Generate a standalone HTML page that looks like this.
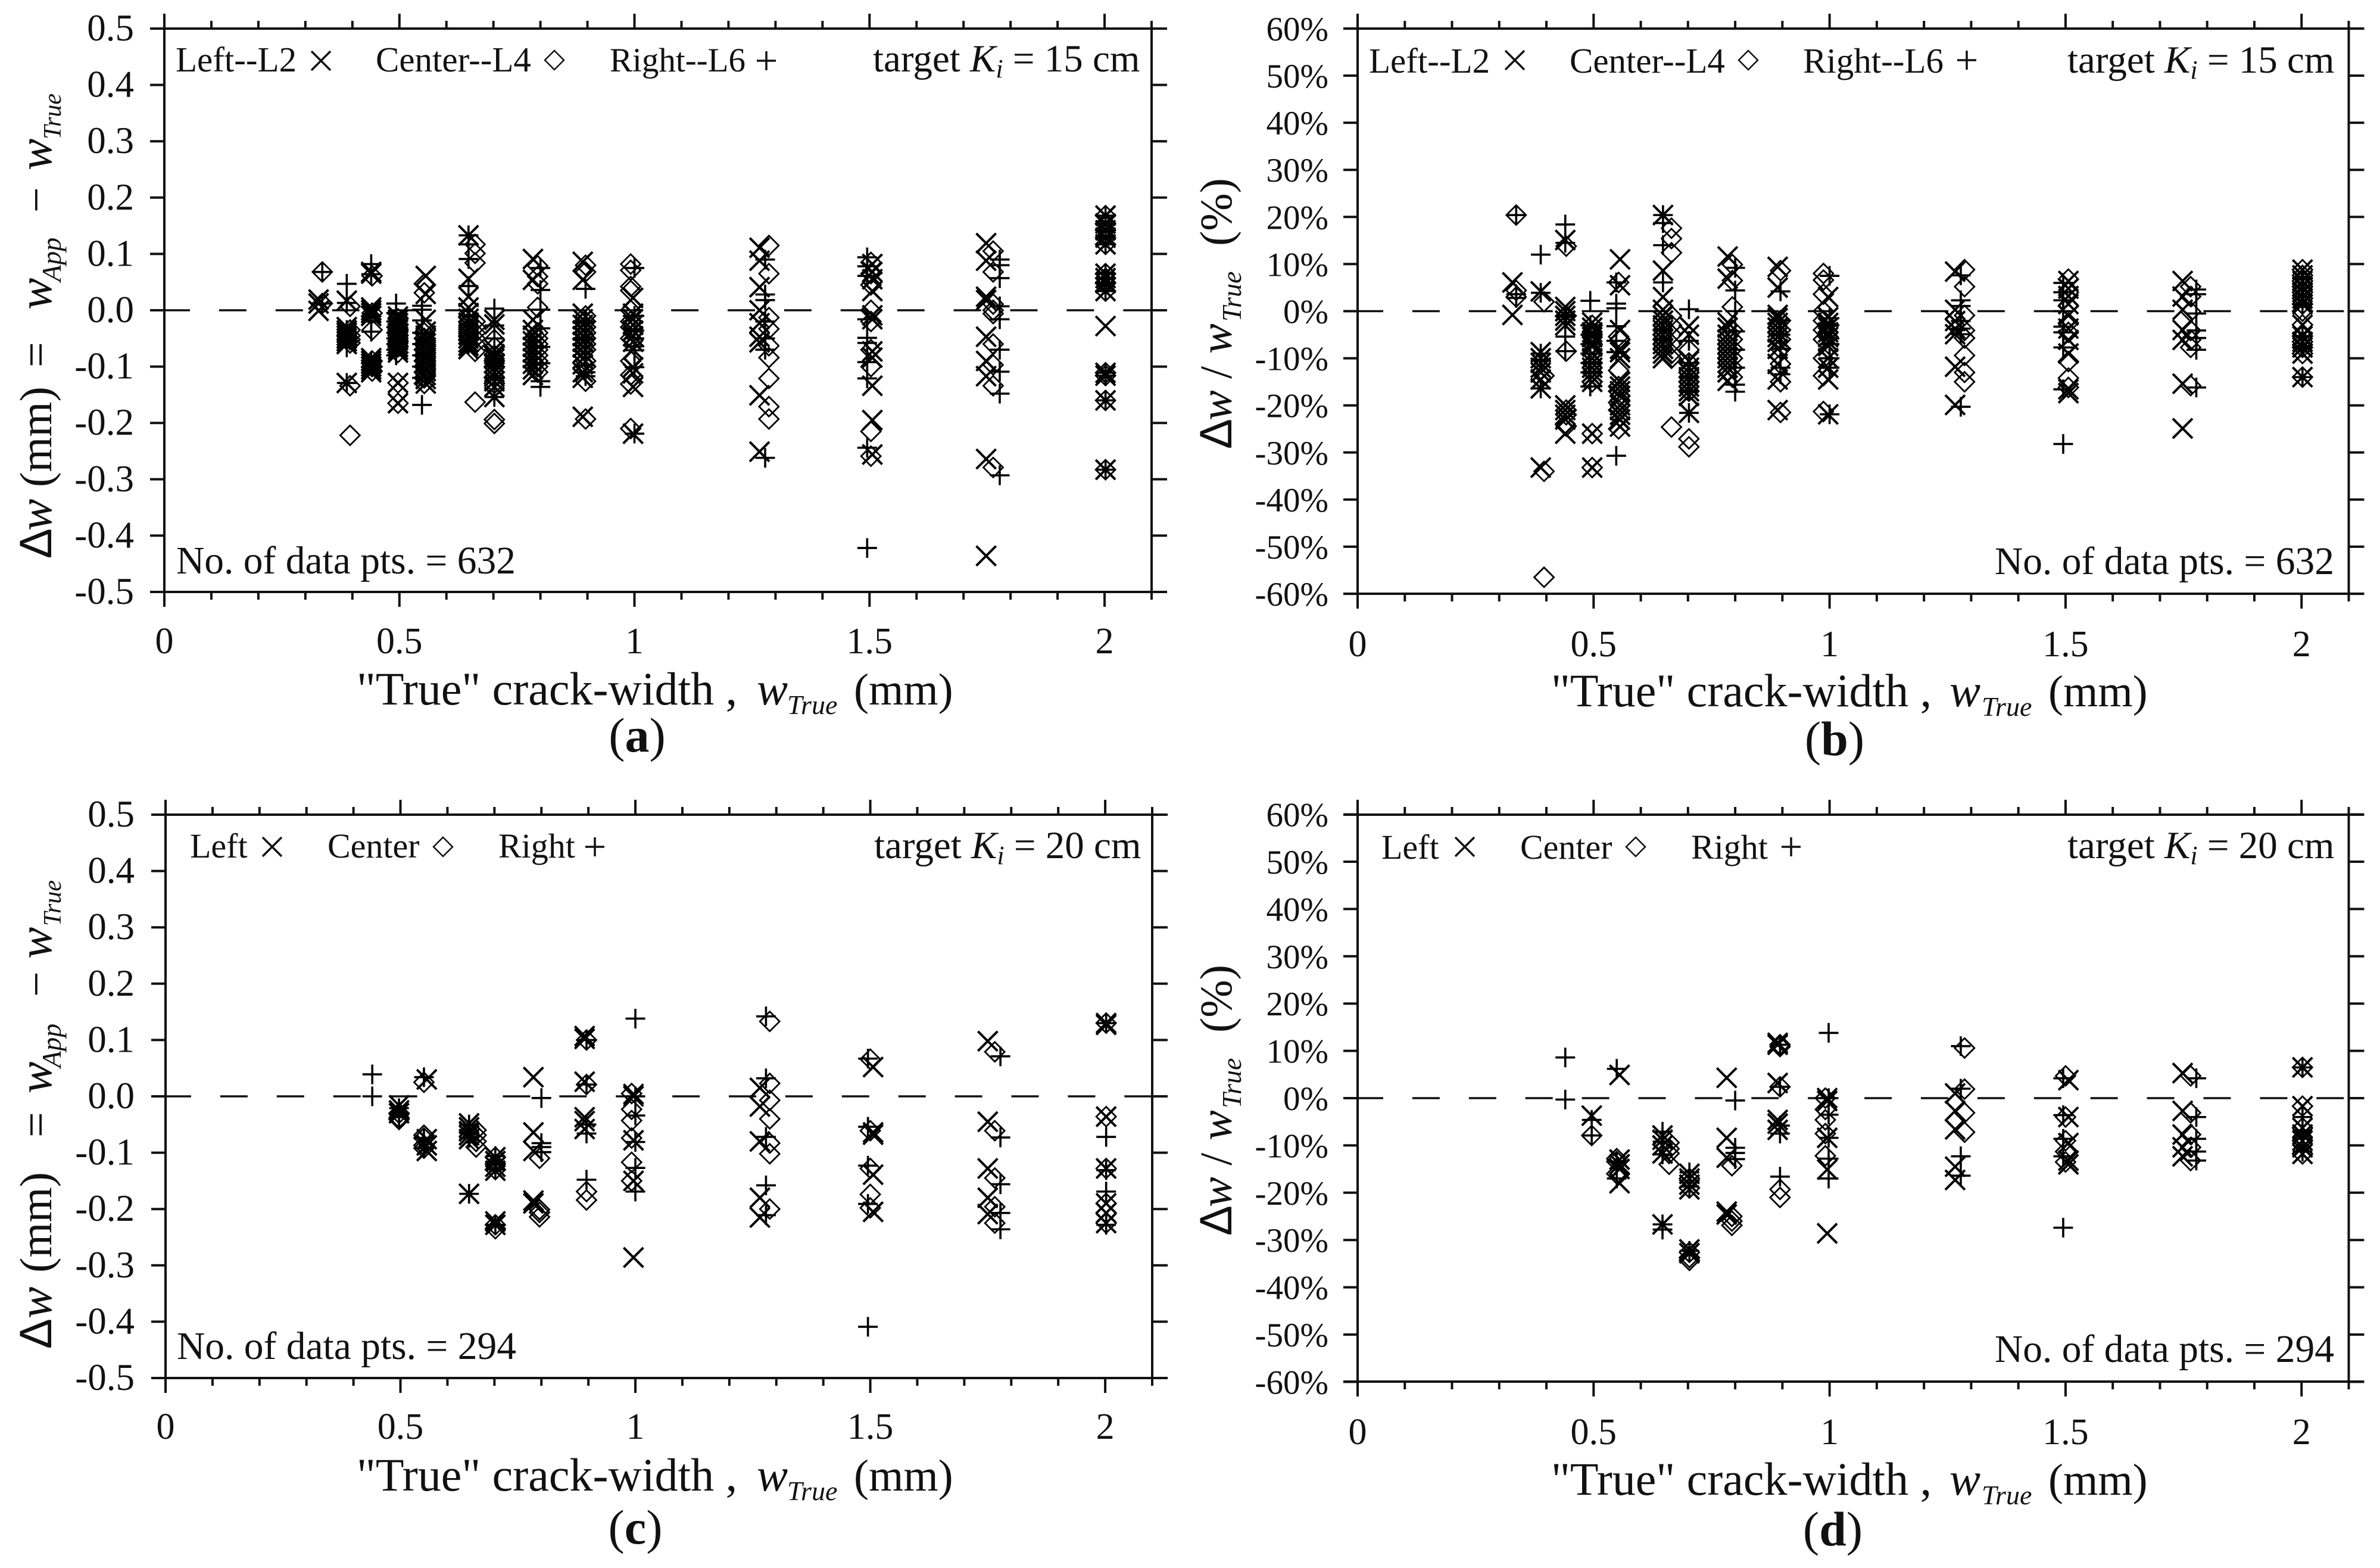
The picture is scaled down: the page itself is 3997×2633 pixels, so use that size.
<!DOCTYPE html>
<html lang="en">
<head>
<meta charset="utf-8">
<title>Crack-width error charts</title>
<style>
html,body{margin:0;padding:0;background:#fff;}
svg{display:block;}
text{font-family:"Liberation Serif",serif;fill:#111;}
</style>
</head>
<body>
<svg id="fig" xmlns="http://www.w3.org/2000/svg" width="3997" height="2633" viewBox="0 0 3997 2633">
<rect x="0" y="0" width="3997" height="2633" fill="#fff"/>

<g id="panel-a"></g>
<g id="panel-b"></g>
<g id="panel-c"></g>
<g id="panel-d"></g>

<!-- Panel A text -->
<g font-size="59">
<text x="295" y="120">Left--L2</text>
<path d="M523 86L555 118M555 86L523 118" stroke="#111" stroke-width="3.5" fill="none"/>
<text x="631" y="120">Center--L4</text>
<path d="M931 85L947 101L931 117L915 101Z" stroke="#111" stroke-width="2.5" fill="none"/>
<text x="1024" y="120" font-size="57">Right--L6</text>
<path d="M1271 102H1303M1287 86V118" stroke="#111" stroke-width="3.5" fill="none"/>
</g>
<text x="1466" y="120" font-size="65">target <tspan font-style="italic">K</tspan><tspan font-size="44" dy="10" font-style="italic">i</tspan><tspan dy="-10"> = 15 cm</tspan></text>
<text x="296" y="963" font-size="65.5">No. of data pts. = 632</text>
<text x="599" y="1183" font-size="78">"True" crack-width ,<tspan x="1271" font-style="italic">w</tspan><tspan x="1322" dy="16" font-size="46" font-style="italic">True</tspan><tspan x="1434" dy="-16" font-size="75">(mm)</tspan></text>
<text x="1070" y="1262" font-size="82" text-anchor="middle">(<tspan font-weight="bold">a</tspan>)</text>
<g transform="translate(86,938) rotate(-90)">
<text font-size="76"><tspan x="0" font-family="Liberation Sans">&#916;</tspan><tspan x="47" font-style="italic" font-size="80">w</tspan><tspan x="120">(mm)</tspan><tspan x="321">=</tspan><tspan x="418" font-style="italic" font-size="80">w</tspan><tspan x="465" dy="16" font-size="46" font-style="italic">App</tspan><tspan x="581" dy="-16">&#8722;</tspan><tspan x="652" font-style="italic" font-size="80">w</tspan><tspan x="704" dy="16" font-size="42" font-style="italic">True</tspan></text>
</g>

<!-- Panel B text -->
<g font-size="59">
<text x="2299" y="122">Left--L2</text>
<path d="M2528 85L2560 117M2560 85L2528 117" stroke="#111" stroke-width="3.5" fill="none"/>
<text x="2636" y="122">Center--L4</text>
<path d="M2936 85L2952 101L2936 117L2920 101Z" stroke="#111" stroke-width="2.5" fill="none"/>
<text x="3028" y="122">Right--L6</text>
<path d="M3287 101H3319M3303 85V117" stroke="#111" stroke-width="3.5" fill="none"/>
</g>
<text x="3472" y="122" font-size="65">target <tspan font-style="italic">K</tspan><tspan font-size="44" dy="10" font-style="italic">i</tspan><tspan dy="-10"> = 15 cm</tspan></text>
<text x="3350" y="964" font-size="65.5">No. of data pts. = 632</text>
<text x="2605" y="1186" font-size="78">"True" crack-width ,<tspan x="3274" font-style="italic">w</tspan><tspan x="3328" dy="16" font-size="46" font-style="italic">True</tspan><tspan x="3440" dy="-16" font-size="75">(mm)</tspan></text>
<text x="3081" y="1268" font-size="82" text-anchor="middle">(<tspan font-weight="bold">b</tspan>)</text>
<g transform="translate(2068,754) rotate(-90)">
<text font-size="76"><tspan x="0" font-family="Liberation Sans">&#916;</tspan><tspan x="48" font-style="italic">w</tspan><tspan x="118">/</tspan><tspan x="160" font-style="italic">w</tspan><tspan x="214" dy="16" font-size="46" font-style="italic">True</tspan><tspan x="341" dy="-16">(%)</tspan></text>
</g>

<!-- Panel C text -->
<g font-size="58">
<text x="319" y="1440">Left</text>
<path d="M441 1406L473 1438M473 1406L441 1438" stroke="#111" stroke-width="3.5" fill="none"/>
<text x="550" y="1440">Center</text>
<path d="M744 1406L760 1422L744 1438L728 1422Z" stroke="#111" stroke-width="2.5" fill="none"/>
<text x="837" y="1440">Right</text>
<path d="M983 1422H1015M999 1406V1438" stroke="#111" stroke-width="3.5" fill="none"/>
</g>
<text x="1468" y="1441" font-size="65">target <tspan font-style="italic">K</tspan><tspan font-size="44" dy="10" font-style="italic">i</tspan><tspan dy="-10"> = 20 cm</tspan></text>
<text x="297" y="2282" font-size="65.5">No. of data pts. = 294</text>
<text x="599" y="2503" font-size="78">"True" crack-width ,<tspan x="1271" font-style="italic">w</tspan><tspan x="1322" dy="16" font-size="46" font-style="italic">True</tspan><tspan x="1434" dy="-16" font-size="75">(mm)</tspan></text>
<text x="1067" y="2592" font-size="82" text-anchor="middle">(<tspan font-weight="bold">c</tspan>)</text>
<g transform="translate(86,2265) rotate(-90)">
<text font-size="76"><tspan x="0" font-family="Liberation Sans">&#916;</tspan><tspan x="51" font-style="italic" font-size="80">w</tspan><tspan x="128">(mm)</tspan><tspan x="355">=</tspan><tspan x="429" font-style="italic" font-size="80">w</tspan><tspan x="472" dy="16" font-size="46" font-style="italic">App</tspan><tspan x="591" dy="-16">&#8722;</tspan><tspan x="655" font-style="italic" font-size="80">w</tspan><tspan x="710" dy="16" font-size="42" font-style="italic">True</tspan></text>
</g>

<!-- Panel D text -->
<g font-size="58">
<text x="2320" y="1442">Left</text>
<path d="M2444 1406L2476 1438M2476 1406L2444 1438" stroke="#111" stroke-width="3.5" fill="none"/>
<text x="2553" y="1442">Center</text>
<path d="M2747 1406L2763 1422L2747 1438L2731 1422Z" stroke="#111" stroke-width="2.5" fill="none"/>
<text x="2840" y="1442">Right</text>
<path d="M2992 1422H3024M3008 1406V1438" stroke="#111" stroke-width="3.5" fill="none"/>
</g>
<text x="3472" y="1441" font-size="65">target <tspan font-style="italic">K</tspan><tspan font-size="44" dy="10" font-style="italic">i</tspan><tspan dy="-10"> = 20 cm</tspan></text>
<text x="3350" y="2287" font-size="65.5">No. of data pts. = 294</text>
<text x="2605" y="2510" font-size="78">"True" crack-width ,<tspan x="3274" font-style="italic">w</tspan><tspan x="3328" dy="16" font-size="46" font-style="italic">True</tspan><tspan x="3440" dy="-16" font-size="75">(mm)</tspan></text>
<text x="3078" y="2595" font-size="82" text-anchor="middle">(<tspan font-weight="bold">d</tspan>)</text>
<g transform="translate(2068,2075) rotate(-90)">
<text font-size="76"><tspan x="0" font-family="Liberation Sans">&#916;</tspan><tspan x="48" font-style="italic">w</tspan><tspan x="118">/</tspan><tspan x="160" font-style="italic">w</tspan><tspan x="214" dy="16" font-size="46" font-style="italic">True</tspan><tspan x="341" dy="-16">(%)</tspan></text>
</g>
</svg>

<script>
// Axis tick data
const xMajorTicks = [0, 0.5, 1, 1.5, 2];
const xMajorLabels = ["0", "0.5", "1", "1.5", "2"];
const xMinorTicks = [0.1, 0.2, 0.3, 0.4, 0.6, 0.7, 0.8, 0.9, 1.1, 1.2, 1.3, 1.4, 1.6, 1.7, 1.8, 1.9, 2.1];
const yTicksMm = [0.5, 0.4, 0.3, 0.2, 0.1, 0, -0.1, -0.2, -0.3, -0.4, -0.5];
const yLabelsMm = ["0.5", "0.4", "0.3", "0.2", "0.1", "0.0", "-0.1", "-0.2", "-0.3", "-0.4", "-0.5"];
const yTicksPct = [60, 50, 40, 30, 20, 10, 0, -10, -20, -30, -40, -50, -60];
const yLabelsPct = ["60%", "50%", "40%", "30%", "20%", "10%", "0%", "-10%", "-20%", "-30%", "-40%", "-50%", "-60%"];

// Panel A (mm, Ki = 15 cm)
const aLeftX = [.328, .388, .44, .497, .556, .647, .702, .784, .89, .997, 1.266, 1.506, 1.748, 2.002];
const aLeftY = [
 [.019, .012, -.001],
 [.017, -.03, -.036, -.04, -.045, -.05, -.055, -.06, -.129],
 [.068, .065, .005, 0, -.005, -.01, -.085, -.09, -.095, -.1, -.105, -.11],
 [-.011, -.017, -.023, -.029, -.035, -.041, -.047, -.053, -.059, -.065, -.07, -.075, -.129, -.165],
 [.061, .029, -.017, -.038, -.045, -.052, -.059, -.066, -.073, -.08, -.087, -.094, -.101, -.108, -.115, -.122, -.13],
 [.133, .056, .024, .005, -.005, -.015, -.022, -.029, -.036, -.043, -.05, -.057, -.063, -.069],
 [-.017, -.025, -.07, -.078, -.086, -.094, -.102, -.11, -.118, -.126, -.136, -.154],
 [.091, .054, -.017, -.035, -.045, -.055, -.065, -.075, -.085, -.095, -.105, -.115],
 [.086, .054, -.006, -.016, -.026, -.036, -.046, -.056, -.066, -.076, -.086, -.096, -.11, -.12, -.189],
 [.022, -.006, -.016, -.026, -.036, -.046, -.056, -.07, -.101, -.112, -.136, -.219],
 [.111, .088, .041, 0, -.023, -.047, -.057, -.151, -.251],
 [.082, .068, .055, .034, -.009, -.016, -.073, -.084, -.134, -.195, -.256],
 [.119, .088, .024, .018, -.047, -.09, -.117, -.264, -.436],
 [.168, .154, .142, .129, .117, .065, .057, .048, .034, -.028, -.111, -.116, -.16, -.283]
];
const aCenterX = [.336, .395, .442, .497, .553, .661, .702, .794, .896, .992, 1.286, 1.503, 1.763, 2.002];
const aCenterY = [
 [.068, .012],
 [.007, -.035, -.045, -.052, -.058, -.134, -.222],
 [.061, -.005, -.035, -.09, -.1, -.108],
 [-.015, -.025, -.035, -.045, -.055, -.065, -.075, -.129, -.165],
 [.047, .031, -.04, -.05, -.06, -.07, -.08, -.09, -.1, -.11, -.12, -.13],
 [.117, .101, .084, -.02, -.03, -.04, -.05, -.06, -.073, -.163],
 [-.052, -.065, -.08, -.09, -.1, -.11, -.12, -.13, -.194, -.201],
 [.079, .06, .047, .005, -.04, -.05, -.06, -.07, -.08, -.09, -.1, -.11],
 [.08, .068, -.01, -.02, -.03, -.04, -.05, -.06, -.07, -.09, -.1, -.126, -.193],
 [.082, .071, .042, .035, 0, -.02, -.03, -.05, -.09, -.115, -.131, -.21],
 [.115, .065, -.013, -.033, -.063, -.084, -.121, -.171, -.193],
 [.085, .065, .045, 0, -.02, -.07, -.1, -.215, -.259],
 [.105, .068, .011, 0, -.006, -.06, -.097, -.134, -.279],
 [.168, .154, .142, .129, .117, .065, .057, .048, .034, -.111, -.116, -.16, -.283]
];
const aRightX = [.336, .388, .44, .493, .548, .647, .702, .80, .896, 1.0, 1.278, 1.495, 1.777, 2.002];
const aRightY = [
 [.068, .012],
 [.047, .013, -.035, -.05, -.066, -.129],
 [.082, .064, -.01, -.02, -.038, -.09, -.1],
 [.012, -.005, -.02, -.03, -.04, -.05, -.06, -.07, -.08],
 [.008, .001, -.018, -.04, -.06, -.08, -.1, -.12, -.168],
 [.133, .117, .091, .043, -.01, -.025, -.04, -.06],
 [.003, -.027, -.05, -.08, -.1, -.12, -.154],
 [.075, .036, .001, -.032, -.065, -.094, -.126, -.136],
 [.038, -.02, -.05, -.098, -.11, -.117],
 [.075, -.01, -.036, -.05, -.064, -.071, -.101, -.219],
 [.09, .028, .018, -.02, -.05, -.07, -.262],
 [.094, .078, .061, -.016, -.049, -.058, -.092, -.121, -.244, -.422],
 [.09, .08, .057, .007, -.016, -.07, -.109, -.148, -.293],
 [.168, .154, .142, .129, .117, .065, .057, .048, .034, -.111, -.116, -.16, -.283]
];

// Panel B (percent, Ki = 15 cm)
const bLeftX = [.328, .388, .44, .497, .556, .647, .702, .784, .89, .997, 1.266, 1.506, 1.748, 2.002];
const bLeftY = [
 [6.1, -.8],
 [4.2, -8.7, -10, -11, -12, -13, -14.5, -16.4, -33.2],
 [15.1, .9, 0, -1, -2, -3, -20, -21, -22, -23, -26],
 [-2.4, -3.5, -4.5, -5.5, -6.5, -7.5, -9, -10, -11, -12, -13, -14, -15, -26, -33.2],
 [11, 5.5, -4, -8, -8.7, -10, -15, -16, -17, -18, -20, -21, -22, -23, -24.5],
 [20.4, 8.6, 3, .3, -1, -2, -3, -4, -5, -6, -7, -8, -9, -10],
 [-3.2, -5, -10.6, -12, -13, -14, -15, -16, -17, -18, -21.6],
 [11.6, 6.9, -2.4, -3.5, -5, -6, -7, -8, -9, -10, -11, -12, -13, -14.8],
 [9.4, 5, -.8, -1.5, -2.5, -3.5, -4.5, -5.5, -6.5, -8, -11.2, -14.5, -21],
 [3, -1.3, -2.5, -3.5, -4.5, -5.5, -6.5, -7.4, -10, -12, -14.5, -21.9],
 [8.4, .3, -2.1, -3.7, -4.9, -11.8, -19.9],
 [6.4, 4.8, 3.2, 1.5, -.9, -3.7, -6.1, -9, -16.6, -17.4],
 [6.4, 3.1, .3, -4, -6.1, -15.4, -24.9],
 [8.8, 7.6, 6.4, 5.2, 4, 2.7, 1.5, -2.9, -5.3, -6.5, -7.7, -9, -14]
];
const bCenterX = [.336, .395, .442, .497, .553, .665, .702, .794, .896, .987, 1.286, 1.506, 1.765, 2.002];
const bCenterY = [
 [20.4, 4.4, 3],
 [2, -13.7, -34, -56.5],
 [13.8, -8.5, -1, -24.4, -21, -22],
 [-3, -5, -7, -9, -11, -13, -15, -26, -33.2],
 [6.1, -5.4, -12.6, -16, -17, -19.4, -21, -25],
 [17.6, 15.4, 12.4, -1, -3, -5, -7, -9, -10, -24.6],
 [-8.2, -11, -13, -15, -17, -27.1, -28.8],
 [9.9, 6.5, .9, -4, -6, -8, -10, -12, -14],
 [8.6, -2, -4, -6, -8, -11.2, -15, -21.5],
 [8, 6.6, 3.6, 0, -2, -4, -6, -10, -13.7, -21.3],
 [8.8, 5.2, -.9, -4.1, -5.7, -9.4, -13, -15],
 [6.8, 4, 1.1, -2.5, -4.5, -10.7, -14.2, -16.2],
 [5.2, 3.1, -.1, -4.1, -6.1, -7.7, -15.8],
 [8.8, 7.6, 6.4, 5.2, 4, 2.7, 1.5, 0, -2.9, -5.3, -6.5, -7.7, -9, -14]
];
const bRightX = [.336, .388, .44, .493, .548, .647, .702, .80, .896, 1.0, 1.278, 1.495, 1.777, 2.002];
const bRightY = [
 [20.4, 3.6, 2.8],
 [12, 3.9, -9, -10.4, -16.4],
 [18.4, 14.5, -5.4, -8.5, -1],
 [2.2, -3, -5, -7, -9, -11, -13, -16],
 [6.1, 1.6, .6, -3.2, -6.3, -8.7, -30.7],
 [20.4, 18.7, 14, 6.1, -4, -6],
 [.4, -6.3, -11, -14, -17, -21.6],
 [9.2, 4.4, 0, -4.3, -8.2, -12, -15.6, -17.1],
 [4.2, -2, -5, -8, -12, -13.4],
 [7.5, -1.5, -3, -5.8, -7, -10, -12, -21.9],
 [7.6, 2.3, 1.1, -2.1, -3.7, -4.9, -20.3],
 [6, 4, 2.3, 0, -3.3, -4.5, -7.7, -16.6, -28.2],
 [4.6, 3.6, -.5, -4.1, -5.7, -8.2, -16.2],
 [7, 5, 3, 1.5, -5.3, -7.7, -14]
];

// Panel C (mm, Ki = 20 cm)
const cLeftX = [.497, .556, .646, .702, .783, .892, .996, 1.265, 1.506, 1.75, 2.002];
const cLeftY = [
 [-.016, -.025, -.03],
 [.03, -.076, -.087, -.097],
 [-.048, -.055, -.062, -.069, -.076, -.173],
 [-.108, -.115, -.125, -.132, -.222, -.228],
 [.034, -.064, -.097, -.185, -.19],
 [.107, .102, .026, -.037, -.044, -.058],
 [0, .004, -.078, -.15, -.286],
 [.015, -.018, -.08, -.18, -.215],
 [.052, -.064, -.068, -.139, -.205],
 [.098, -.045, -.128, -.18, -.209],
 [.13, .127, -.036, -.128, -.19, -.207, -.225]
];
const cCenterX = [.497, .55, .661, .702, .796, .896, .992, 1.286, 1.5, 1.765, 2.002];
const cCenterY = [
 [-.03, -.038, -.041],
 [.025, -.069, -.074, -.087, -.092],
 [-.06, -.069, -.08, -.09],
 [-.108, -.12, -.13, -.228, -.235],
 [-.11, -.201, -.206, -.214],
 [.1, .021, -.169, -.184],
 [.005, -.023, -.043, -.074, -.117, -.15],
 [.133, .023, -.007, -.04, -.083, -.102, -.2],
 [.066, -.061, -.128, -.174, -.198],
 [.079, -.061, -.145, -.196, -.225],
 [.13, -.036, -.128, -.19, -.207, -.225]
];
const cRightX = [.44, .497, .55, .646, .702, .80, .896, 1.0, 1.278, 1.495, 1.777, 2.002];
const cRightY = [
 [.039, 0],
 [-.021, -.037],
 [.034, -.074, -.092],
 [-.05, -.065, -.074, -.173],
 [-.106, -.13, -.228],
 [-.003, -.083, -.09, -.099],
 [.1, .021, -.05, -.066, -.148],
 [.138, 0, -.034, -.081, -.127, -.169],
 [.142, .032, -.072, -.158, -.211],
 [.067, -.054, -.123, -.191, -.409],
 [.071, -.073, -.156, -.207, -.236],
 [.13, -.072, -.131, -.169, -.228]
];

// Panel D (percent, Ki = 20 cm)
const dLeftX = [.496, .555, .646, .703, .782, .89, .995, 1.266, 1.506, 1.748, 2.002];
const dLeftY = [
 [-3.7],
 [4.9, -13, -14, -18, -15],
 [-7.9, -8.8, -10, -11.7, -26.7],
 [-16, -17, -18.3, -19.3, -32, -32.8],
 [4.3, -8.4, -12.6, -24, -24.6],
 [11.7, 11.3, 3.2, -4.6, -5.4, -6.7],
 [0, -.6, -8.4, -15.1, -28.6],
 [1, -2.7, -6.6, -14.5, -17.3],
 [3.8, -4, -9.5, -13.2, -14],
 [5.3, -2.7, -7.7, -10.4, -12.3],
 [6.5, -1.7, -6.3, -7.7, -9, -10.4, -11.8]
];
const dCenterX = [.496, .549, .66, .703, .793, .895, .991, 1.286, 1.5, 1.765, 2.002];
const dCenterY = [
 [-7.9],
 [-12.8, -13.4, -16],
 [-9.4, -10.7, -11.7, -14],
 [-17, -19, -32.6, -33.7, -34.3],
 [-14.3, -25, -26, -26.9],
 [11.3, 10.9, 2.4, -19.3, -21],
 [0, -2.4, -4.6, -7.5, -12.2],
 [10.6, 1.9, -3.1, -7.2],
 [4.7, -4, -9, -11.3, -13.5],
 [4.7, -3.1, -7.7, -10.4, -13.2],
 [6.5, -1.7, -6.3, -9, -11.8]
];
const dRightX = [.44, .496, .549, .646, .703, .80, .895, .998, 1.278, 1.495, 1.777, 2.002];
const dRightY = [
 [8.6, -.3],
 [-4.6, -7.9],
 [6.2, -13.4, -17],
 [-7.1, -9.2, -11.9, -26.7, -27.8],
 [-15.7, -18.7, -32.3],
 [-.5, -10.5, -11.6, -12.9],
 [11.3, 2.4, -5.8, -7.5, -16.6],
 [13.8, 0, -3.5, -8.4, -12.8, -17],
 [11, 2, -12.3, -16.4],
 [4.2, -3.6, -8.6, -12.3, -27.4],
 [4.2, -4, -8.6, -11.3, -13.2],
 [6.5, -4, -6.8, -8.6, -11.3]
];

const NS = "http://www.w3.org/2000/svg";

function svgEl(parent, tag, attrs) {
  const el = document.createElementNS(NS, tag);
  for (const k in attrs) el.setAttribute(k, attrs[k]);
  parent.appendChild(el);
  return el;
}

function markerPath(kind, cx, cy) {
  const h = 16.5;
  if (kind === "left") {
    return `M${cx - h} ${cy - h}L${cx + h} ${cy + h}M${cx + h} ${cy - h}L${cx - h} ${cy + h}`;
  }
  if (kind === "right") {
    return `M${cx - h} ${cy}H${cx + h}M${cx} ${cy - h}V${cy + h}`;
  }
  return `M${cx} ${cy - h}L${cx + h} ${cy}L${cx} ${cy + h}L${cx - h} ${cy}Z`;
}

function drawSeries(group, panel, kind, xs, ys) {
  const widths = { left: 4, center: 2.8, right: 3.6 };
  xs.forEach(function (xv, i) {
    ys[i].forEach(function (yv) {
      const m = svgEl(group, "path", {
        d: markerPath(kind, panel.xScale(xv), panel.yScale(yv)),
        fill: "none",
        stroke: "#000",
        "stroke-width": widths[kind]
      });
      
      
    });
  });
}

function drawPanel(panel) {
  const g = document.getElementById(panel.id);
  const ax = svgEl(g, "g", { stroke: "#111", "stroke-width": 4, fill: "none" });
  
  

  const frame = svgEl(ax, "path", {
    d: `M${panel.left} ${panel.top}V${panel.bottom}M${panel.right} ${panel.top}V${panel.bottom}M${panel.left - 24} ${panel.top}H${panel.right + 26}M${panel.left - 24} ${panel.bottom}H${panel.right + 26}`
  });
  
  

  xMajorTicks.forEach(function (v, i) {
    const px = panel.xScale(v);
    const t = svgEl(ax, "path", { d: `M${px} ${panel.top}V${panel.top - 25}M${px} ${panel.bottom}V${panel.bottom + 25}` });
    
    
    const lab = svgEl(g, "text", { x: px, y: panel.xLabelY, "font-size": 62, "text-anchor": "middle" });
    lab.textContent = xMajorLabels[i];
    
    
  });
  xMinorTicks.forEach(function (v) {
    const px = panel.xScale(v);
    const t = svgEl(ax, "path", { d: `M${px} ${panel.top}V${panel.top - 13}M${px} ${panel.bottom}V${panel.bottom + 13}` });
    
    
  });
  panel.yTicks.forEach(function (v, i) {
    const py = panel.yScale(v);
    const t = svgEl(ax, "path", { d: `M${panel.left} ${py}H${panel.left - 24}M${panel.right} ${py}H${panel.right + 26}` });
    
    
    const lab = svgEl(g, "text", { x: panel.yLabelX, y: py + 20, "font-size": panel.yFont, "text-anchor": "end" });
    lab.textContent = panel.yLabels[i];
    
    
  });

  const zero = svgEl(g, "line", {
    x1: panel.left - 3,
    x2: panel.right,
    y1: panel.yScale(0),
    y2: panel.yScale(0),
    stroke: "#111",
    "stroke-width": 3.5,
    "stroke-dasharray": "46 48.9"
  });
  
  

  const marks = svgEl(g, "g", {});
  
  
  drawSeries(marks, panel, "center", panel.centerX, panel.centerY);
  drawSeries(marks, panel, "left", panel.leftX, panel.leftY);
  drawSeries(marks, panel, "right", panel.rightX, panel.rightY);
}

function makePanel(o) {
  const xs = (o.right - o.left) / 2.1;
  o.xScale = function (v) { return o.left + v * xs; };
  o.yScale = function (v) { return o.zero - v * o.perUnit; };
  return o;
}

drawPanel(makePanel({ id: "panel-a", left: 276, right: 1934, top: 48, bottom: 994, zero: 521, perUnit: 946, yTicks: yTicksMm, yLabels: yLabelsMm, yLabelX: 225, yFont: 63, xLabelY: 1097, leftX: aLeftX, leftY: aLeftY, centerX: aCenterX, centerY: aCenterY, rightX: aRightX, rightY: aRightY }));
drawPanel(makePanel({ id: "panel-b", left: 2280, right: 3944.5, top: 48, bottom: 997, zero: 522.5, perUnit: 7.91, yTicks: yTicksPct, yLabels: yLabelsPct, yLabelX: 2231, yFont: 57, xLabelY: 1102, leftX: bLeftX, leftY: bLeftY, centerX: bCenterX, centerY: bCenterY, rightX: bRightX, rightY: bRightY }));
drawPanel(makePanel({ id: "panel-c", left: 278, right: 1935, top: 1368, bottom: 2314, zero: 1841, perUnit: 946, yTicks: yTicksMm, yLabels: yLabelsMm, yLabelX: 226, yFont: 63, xLabelY: 2416, leftX: cLeftX, leftY: cLeftY, centerX: cCenterX, centerY: cCenterY, rightX: cRightX, rightY: cRightY }));
drawPanel(makePanel({ id: "panel-d", left: 2280, right: 3944.5, top: 1368, bottom: 2320, zero: 1844, perUnit: 7.94, yTicks: yTicksPct, yLabels: yLabelsPct, yLabelX: 2231, yFont: 57, xLabelY: 2425, leftX: dLeftX, leftY: dLeftY, centerX: dCenterX, centerY: dCenterY, rightX: dRightX, rightY: dRightY }));
</script>
</body>
</html>
